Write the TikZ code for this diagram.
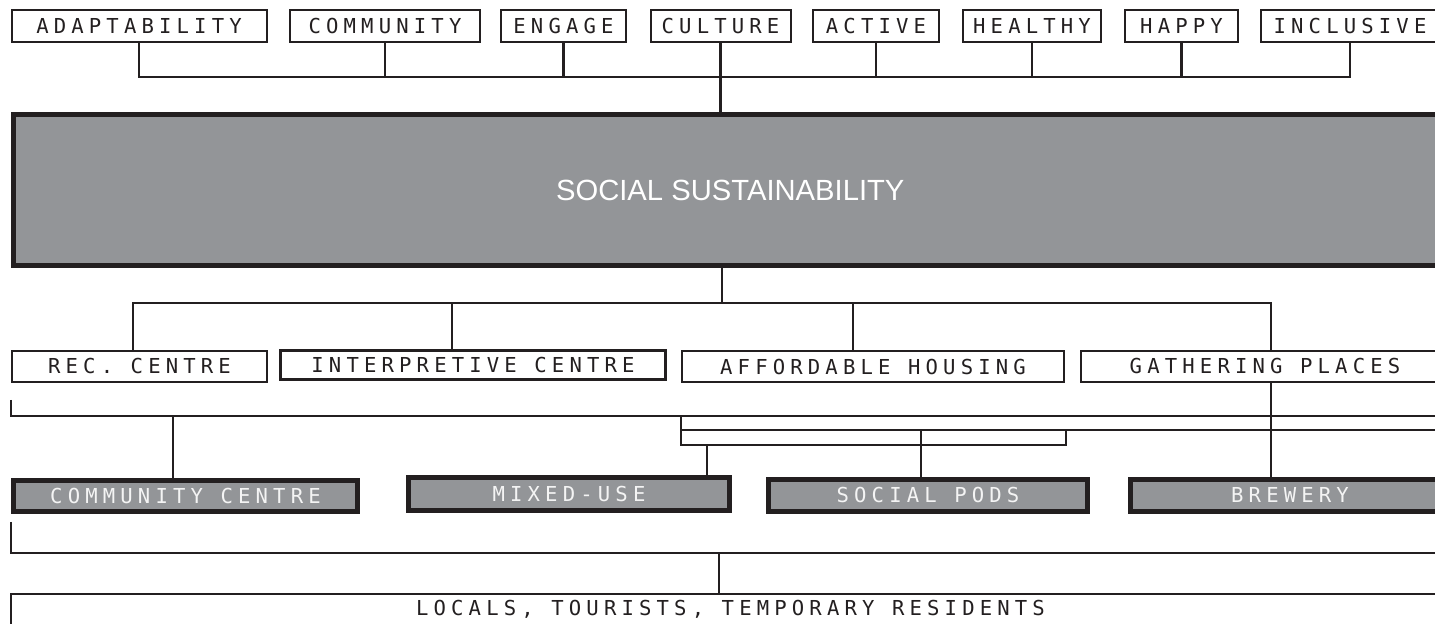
\documentclass[tikz,border=0pt]{standalone}
\usepackage{fontspec}
\setmainfont{Liberation Sans}
\newfontfamily\boxfont[LetterSpace=25]{DejaVu Sans Mono}
\definecolor{ink}{HTML}{231F20}
\definecolor{panel}{HTML}{939598}
\definecolor{paper}{HTML}{F4F4F4}
\tikzstyle{keyword} = [
	rectangle,
	minimum height=16pt,
	inner sep=0pt,
	text height=7.5pt,
	text depth=0pt,
	text centered,
	draw=ink,
	line width=1pt,
	text=ink,
	font={\boxfont\fontsize{10.3pt}{12pt}\selectfont}
]
\tikzstyle{hub} = [
	rectangle,
	inner sep=0pt,
	text centered,
	draw=ink,
	line width=2.4pt,
	fill=panel,
	text=white,
	font={\fontsize{14.6pt}{17pt}\selectfont}
]
\tikzstyle{venue} = [
	rectangle,
	inner sep=0pt,
	text height=7.5pt,
	text depth=0pt,
	text centered,
	draw=ink,
	line width=2.5pt,
	fill=panel,
	text=paper,
	font={\boxfont\fontsize{10.3pt}{12pt}\selectfont}
]
\tikzstyle{audience} = [
	rectangle,
	anchor=north,
	inner sep=0pt,
	text height=11pt,
	text depth=20pt,
	text centered,
	draw=ink,
	line width=1pt,
	text=ink,
	font={\boxfont\fontsize{10.3pt}{12pt}\selectfont}
]
\tikzstyle{link} = [draw=ink, line width=1.1pt]

\begin{document}
\begin{tikzpicture}[x=0.5pt, y=-0.5pt]
        \useasboundingbox (0,0) rectangle (1435,624);
        \clip (0,0) rectangle (1435,624);
        % values
        \node (adapt) [keyword, minimum width=127.5pt] at (139,26) {ADAPTABILITY};
        \node (commun) [keyword, minimum width=95pt] at (385,26) {COMMUNITY};
        \node (engage) [keyword, minimum width=62.5pt] at (563.5,26) {ENGAGE};
        \node (culture) [keyword, minimum width=70pt] at (720.5,26) {CULTURE};
        \node (active) [keyword, minimum width=63pt] at (876,26) {ACTIVE};
        \node (healthy) [keyword, minimum width=69pt] at (1032,26) {HEALTHY};
        \node (happy) [keyword, minimum width=56.5pt] at (1181.5,26) {HAPPY};
        \node (inclus) [keyword, minimum width=89pt] at (1350,26) {INCLUSIVE};
        % goal
        \node (social) [hub, minimum width=716.75pt, minimum height=75.5pt] at (730.25,190) {SOCIAL SUSTAINABILITY};
        % programmes
        \node (rec) [keyword, minimum width=127.5pt, minimum height=15.5pt] at (139.5,366.5) {REC. CENTRE};
        \node (interp) [keyword, line width=1.5pt, minimum width=192.6pt, minimum height=14.6pt] at (473,365) {INTERPRETIVE CENTRE};
        \node (afford) [keyword, minimum width=191pt, minimum height=15.5pt] at (873,367) {AFFORDABLE HOUSING};
        \node (gather) [keyword, minimum width=184pt, minimum height=15.5pt] at (1265,366.5) {GATHERING PLACES};
        % buildings
        \node (comcen) [venue, minimum width=172pt, minimum height=15.5pt] at (185.5,496) {COMMUNITY CENTRE};
        \node (mixed) [venue, minimum width=160.5pt, minimum height=16.5pt] at (569,494) {MIXED-USE};
        \node (pods) [venue, minimum width=159.5pt, minimum height=16pt] at (928,495.5) {SOCIAL PODS};
        \node (brew) [venue, minimum width=159.5pt, minimum height=16pt] at (1290,495.5) {BREWERY};
        % users
        \node (crowd) [audience, minimum width=719.5pt] at (730.5,593) {LOCALS, TOURISTS, TEMPORARY RESIDENTS};

        % junctions
        \coordinate (tb) at (720,77);
        \coordinate (mbL) at (133,303);
        \coordinate (mb) at (722,303);
        \coordinate (mbR) at (1271,303);
        \coordinate (m2) at (452,303);
        \coordinate (m3) at (853,303);
        \coordinate (lbtop) at (11,400);
        \coordinate (lbR) at (1440,416);
        \coordinate (c1) at (173,416);
        \coordinate (sb) at (681,416);
        \coordinate (sbL) at (681,430);
        \coordinate (sbR) at (1440,430);
        \coordinate (sbE) at (1066,445);
        \coordinate (p1) at (707,445);
        \coordinate (p2) at (921,430);
        \coordinate (bbtop) at (11,522);
        \coordinate (bbR) at (1440,553);
        \coordinate (bm) at (719,553);

        \draw [link] (adapt.south) |- (tb) -| (inclus.south);
        \foreach \n in {commun, engage, active, healthy, happy}
          \draw [link] (\n.south) -- (\n.south |- tb);
        \draw [link] (culture.south) -- (culture.south |- social.north);
        \draw [link] (social.south -| mb) -- (mb);
        \draw [link] (rec.north -| mbL) -- (mbL) -- (mbR) -- (gather.north -| mbR);
        \draw [link] (m2) -- (m2 |- interp.north);
        \draw [link] (m3) -- (m3 |- afford.north);
        \draw [link] (lbtop) |- (lbR);
        \draw [link] (c1) -- (c1 |- comcen.north);
        \draw [link] (sb) |- (sbE) -- (sbE |- sbR);
        \draw [link] (sbL) -- (sbR);
        \draw [link] (p1) -- (p1 |- mixed.north);
        \draw [link] (p2) -- (p2 |- pods.north);
        \draw [link] (gather.south -| mbR) -- (mbR |- brew.north);
        \draw [link] (bbtop) |- (bbR);
        \draw [link] (bm) -- (bm |- crowd.north);
      \end{tikzpicture}
\end{document}
